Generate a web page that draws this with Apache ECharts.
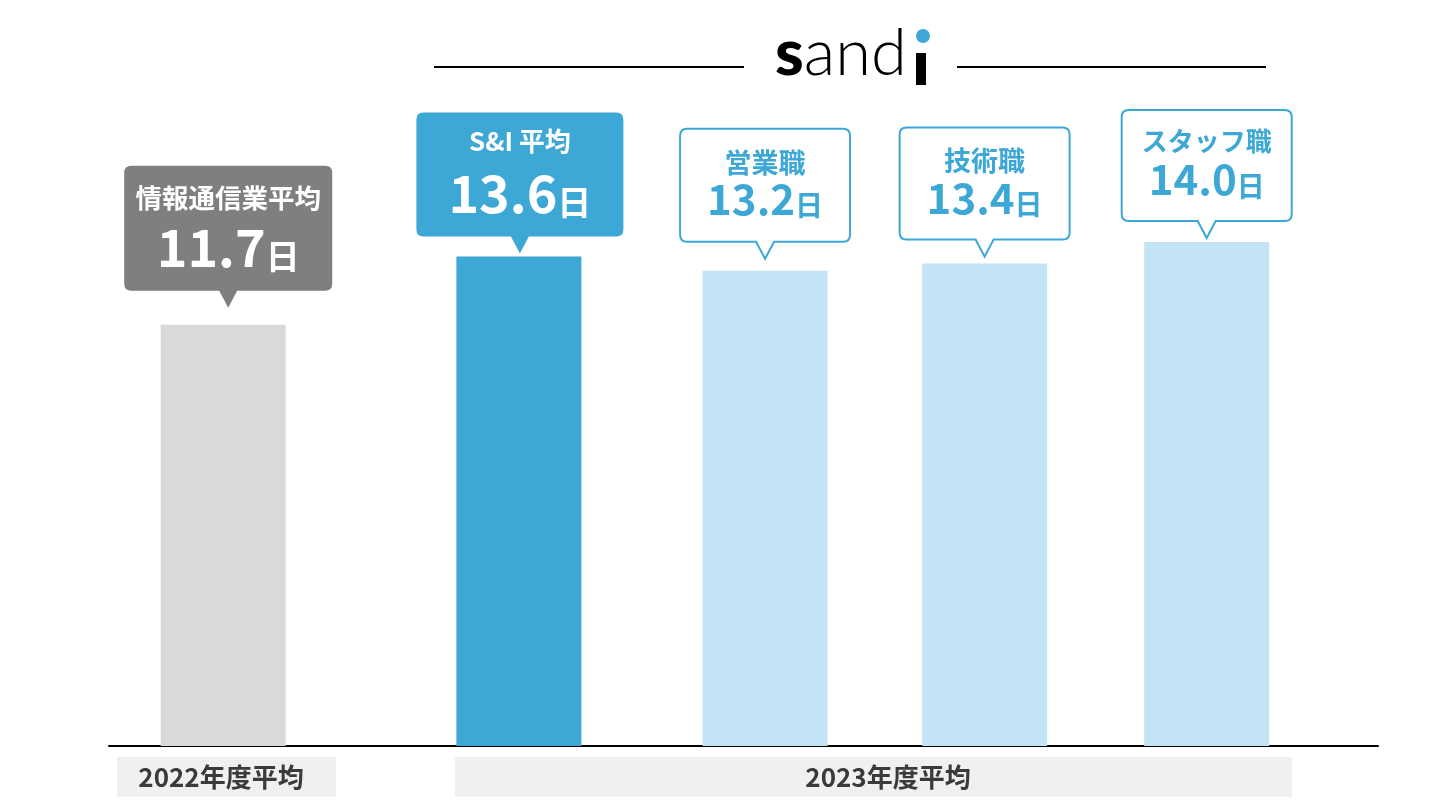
<!DOCTYPE html>
<html>
<head>
<meta charset="utf-8">
<script src="https://cdn.jsdelivr.net/npm/echarts@6/dist/echarts.min.js"></script>
<style>
  html, body { margin: 0; padding: 0; background: #fff; }
  #chart { width: 1440px; height: 810px; }
</style>
</head>
<body>
<div id="chart"></div>
<script>
// data
const groups = ['情報通信業平均', 'S&I 平均', '営業職', '技術職', 'スタッフ職'];
const days = [11.7, 13.6, 13.2, 13.4, 14.0];
const yearLabels = ['2022年度平均', '2023年度平均'];

// layout (bar slot on a 0-100 x axis, callout look)
const slots = [9.0, 32.3, 51.7, 69.0, 86.5];
const BLUE = '#3DA8D6';
const barColors = ['#D9D9D9', BLUE, '#C2E4F4', '#C2E4F4', '#C2E4F4'];
const callouts = [
    {kind: 'fill', color: '#7F7F7F', w: 208, h: 125, gap: 17, dx: 5, t1: 26.5, t2: 52, t3: 34, y1: 32, y2: 81},
    {kind: 'fill', color: BLUE, w: 207, h: 124, gap: 3, dx: 1, t1: 26, t2: 52, t3: 34, y1: 29, y2: 81},
    {kind: 'line', color: BLUE, w: 170, h: 113, gap: 12, dx: 0, t1: 27, t2: 42, t3: 28, y1: 34, y2: 70},
    {kind: 'line', color: BLUE, w: 170, h: 112, gap: 7, dx: 0, t1: 27, t2: 42, t3: 28, y1: 33, y2: 70},
    {kind: 'line', color: BLUE, w: 170, h: 111, gap: 4, dx: 0, t1: 26, t2: 42, t3: 28, y1: 31, y2: 69}
];

const FONT = '"Noto Sans CJK JP", "Noto Sans", sans-serif';

function calloutPath(x0, y0, x1, y1, cx, tipY, r) {
    return 'M' + (x0 + r) + ',' + y0 + ' H' + (x1 - r) + ' Q' + x1 + ',' + y0 + ' ' + x1 + ',' + (y0 + r) +
        ' V' + (y1 - r) + ' Q' + x1 + ',' + y1 + ' ' + (x1 - r) + ',' + y1 +
        ' H' + (cx + 9) + ' L' + cx + ',' + tipY + ' L' + (cx - 9) + ',' + y1 +
        ' H' + (x0 + r) + ' Q' + x0 + ',' + y1 + ' ' + x0 + ',' + (y1 - r) +
        ' V' + (y0 + r) + ' Q' + x0 + ',' + y0 + ' ' + (x0 + r) + ',' + y0 + ' Z';
}

const chart = echarts.init(document.getElementById('chart'));

const option = {
    animation: false,
    grid: {left: 109, right: 62, top: 26, bottom: 64},
    xAxis: {
        type: 'value', min: 0, max: 100,
        axisLine: {show: true, lineStyle: {color: '#000', width: 2}},
        axisTick: {show: false}, axisLabel: {show: false}, splitLine: {show: false}
    },
    yAxis: {
        type: 'value', min: 0, max: 20, show: false, splitLine: {show: false}
    },
    series: [
        {
            type: 'bar',
            barWidth: 125,
            data: days.map((v, i) => ({value: [slots[i], v], itemStyle: {color: barColors[i]}})),
            z: 1
        },
        {
            type: 'custom',
            z: 3,
            data: days.map((v, i) => [slots[i], v]),
            renderItem: function (params, api) {
                const i = params.dataIndex;
                const c = callouts[i];
                const top = api.coord([api.value(0), api.value(1)]);
                const cx = top[0] + c.dx;
                const tipY = top[1] - c.gap;
                const y1 = tipY - 17;
                const y0 = y1 - c.h;
                const x0 = cx - c.w / 2;
                const x1 = cx + c.w / 2;
                const filled = c.kind === 'fill';
                const txt = filled ? '#fff' : BLUE;
                return {
                    type: 'group',
                    children: [
                        {
                            type: 'path',
                            shape: {pathData: calloutPath(x0, y0, x1, y1, cx, tipY, 7)},
                            style: filled ? {fill: c.color} : {fill: '#fff', stroke: c.color, lineWidth: 2}
                        },
                        {
                            type: 'text',
                            style: {
                                text: groups[i], x: cx, y: y0 + c.y1,
                                align: 'center', verticalAlign: 'middle',
                                fill: txt, font: 'bold ' + c.t1 + 'px ' + FONT
                            }
                        },
                        {
                            type: 'text',
                            style: {
                                text: '{n|' + days[i].toFixed(1) + '}{u|日}', x: cx, y: y0 + c.y2,
                                align: 'center', verticalAlign: 'middle',
                                rich: {
                                    n: {fill: txt, fontFamily: FONT, fontWeight: 'bold', fontSize: c.t2, verticalAlign: 'bottom', lineHeight: c.t2},
                                    u: {fill: txt, fontFamily: FONT, fontWeight: 'bold', fontSize: c.t3, verticalAlign: 'bottom', lineHeight: c.t2 - 4}
                                }
                            }
                        }
                    ]
                };
            }
        }
    ],
    graphic: [
        {type: 'line', shape: {x1: 434, y1: 67, x2: 744, y2: 67}, style: {stroke: '#000', lineWidth: 2}},
        {type: 'line', shape: {x1: 957, y1: 67, x2: 1266, y2: 67}, style: {stroke: '#000', lineWidth: 2}},
        {
            type: 'text', x: 775, y: 87,
            style: {
                text: '{b|s}{l|and}', verticalAlign: 'bottom',
                rich: {
                    b: {fontFamily: 'Lato', fontWeight: 900, fontSize: 65, fill: '#000', lineHeight: 65},
                    l: {fontFamily: 'Lato', fontWeight: 300, fontSize: 65, fill: '#000', lineHeight: 65}
                }
            }
        },
        {type: 'rect', shape: {x: 916, y: 53, width: 10, height: 32}, style: {fill: '#000'}},
        {type: 'circle', shape: {cx: 923, cy: 36, r: 7}, style: {fill: BLUE}},
        {type: 'rect', shape: {x: 117, y: 757, width: 219, height: 40}, style: {fill: '#F0F0F0'}},
        {type: 'rect', shape: {x: 455, y: 757, width: 837, height: 40}, style: {fill: '#F0F0F0'}},
        {
            type: 'text', x: 221, y: 777,
            style: {text: yearLabels[0], align: 'center', verticalAlign: 'middle', fill: '#3A3A3A', font: 'bold 26px ' + FONT}
        },
        {
            type: 'text', x: 888, y: 777,
            style: {text: yearLabels[1], align: 'center', verticalAlign: 'middle', fill: '#3A3A3A', font: 'bold 26px ' + FONT}
        }
    ]
};

chart.setOption(option);
window.addEventListener('resize', function () {
    chart.resize();
});
</script>
</body>
</html>
